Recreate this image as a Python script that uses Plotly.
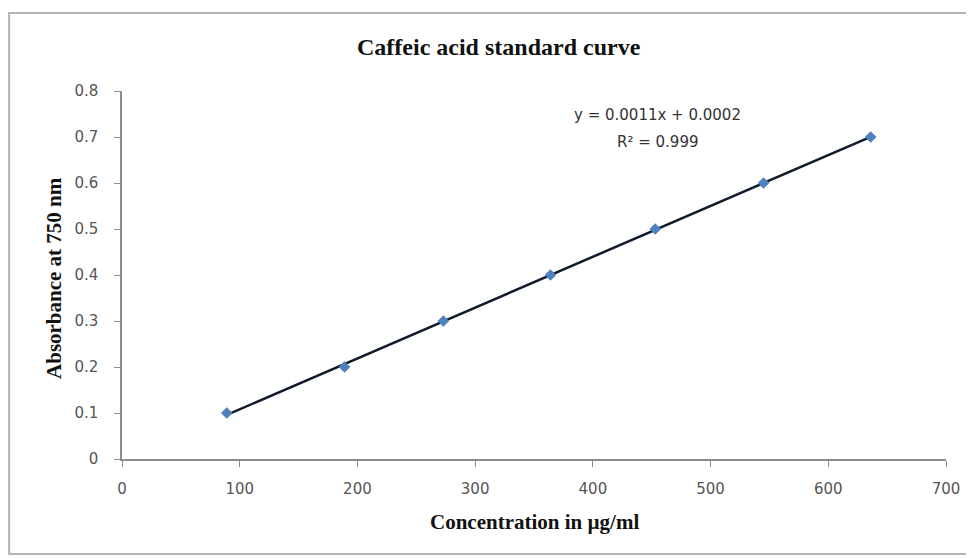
import numpy as np
import plotly.graph_objects as go

concentration = [89, 189, 273, 364, 453, 545, 636]
absorbance = [0.1, 0.2, 0.3, 0.4, 0.5, 0.6, 0.7]
x_ticks = [0, 100, 200, 300, 400, 500, 600, 700]
y_ticks = [0, 0.1, 0.2, 0.3, 0.4, 0.5, 0.6, 0.7, 0.8]
equation_line = "y = 0.0011x + 0.0002"
r2_line = "R² = 0.999"

slope, intercept = np.polyfit(concentration, absorbance, 1)
trend_x = [min(concentration), max(concentration)]
trend_y = [slope * v + intercept for v in trend_x]

fig = go.Figure()
fig.add_trace(go.Scatter(
    x=trend_x, y=trend_y, mode="lines",
    line=dict(color="#0f1a2b", width=2.5),
    showlegend=False,
))
fig.add_trace(go.Scatter(
    x=concentration, y=absorbance, mode="markers",
    marker=dict(symbol="diamond", size=9, color="#4f81bd"),
    showlegend=False,
))

sans = "DejaVu Sans, Verdana, sans-serif"
tick_font = dict(family=sans, size=15, color="#555")
serif_bold = "Liberation Serif, Times New Roman, serif"

fig.update_xaxes(
    range=[0, 700], tickvals=x_ticks, ticktext=[str(v) for v in x_ticks],
    showline=True, linecolor="#8c8c8c", linewidth=2,
    ticks="outside", ticklen=6, tickcolor="#8c8c8c",
    showgrid=False, zeroline=False, tickfont=tick_font,
    ticklabelstandoff=9,
)
fig.update_yaxes(
    range=[0, 0.8], tickvals=y_ticks, ticktext=[f"{v:g}" for v in y_ticks],
    showline=True, linecolor="#8c8c8c", linewidth=1.5,
    ticks="outside", ticklen=6, tickcolor="#8c8c8c",
    showgrid=False, zeroline=False, tickfont=tick_font,
    ticklabelstandoff=13,
)

fig.update_layout(
    width=966, height=550,
    margin=dict(l=114, r=28, t=83, b=99),
    paper_bgcolor="white", plot_bgcolor="white",
    annotations=[
        dict(text="<b>Caffeic acid standard curve</b>", xref="paper", yref="paper",
             x=0.4575, y=1.1196, xanchor="center", yanchor="middle", showarrow=False,
             font=dict(family=serif_bold, size=24, color="#111")),
        dict(text="<b>Absorbance at 750 nm</b>", xref="paper", yref="paper",
             x=-0.0825, y=0.492, xanchor="center", yanchor="middle",
             textangle=-90, showarrow=False,
             font=dict(family=serif_bold, size=21, color="#111")),
        dict(text="<b>Concentration in µg/ml</b>", xref="paper", yref="paper",
             x=0.501, y=-0.171, xanchor="center", yanchor="middle", showarrow=False,
             font=dict(family=serif_bold, size=21, color="#111")),
        dict(text=equation_line, xref="x", yref="y",
             x=454.5, y=0.748, xanchor="center", yanchor="middle",
             showarrow=False, align="center",
             font=dict(family=sans, size=15, color="#333")),
        dict(text=r2_line, xref="x", yref="y",
             x=454.5, y=0.689, xanchor="center", yanchor="middle",
             showarrow=False, align="center",
             font=dict(family=sans, size=15, color="#333")),
    ],
    shapes=[
        dict(type="rect", xref="paper", yref="paper",
             x0=-0.137, x1=1.0255, y0=-0.258, y1=1.212,
             line=dict(color="#b5b5b5", width=2), fillcolor="rgba(0,0,0,0)", layer="below"),
    ],
)

fig.write_html("out.html")
